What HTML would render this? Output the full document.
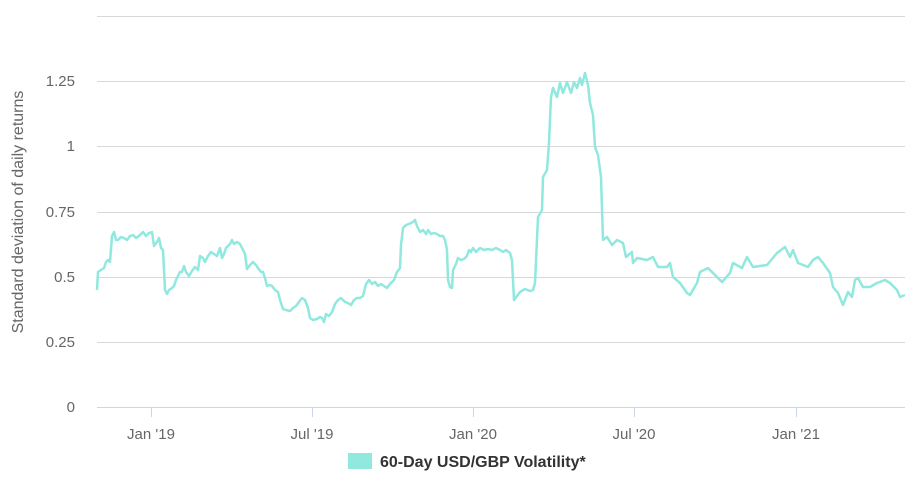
<!DOCTYPE html>
<html><head><meta charset="utf-8"><style>
body{margin:0;background:#fff;}
svg text{font-family:"Liberation Sans","DejaVu Sans",sans-serif;}
</style></head><body>
<svg width="921" height="480" xmlns="http://www.w3.org/2000/svg">
<g stroke="#d8d8d8" stroke-width="1">
<line x1="97" x2="905" y1="16.5" y2="16.5"/>
<line x1="97" x2="905" y1="81.5" y2="81.5"/>
<line x1="97" x2="905" y1="146.5" y2="146.5"/>
<line x1="97" x2="905" y1="212.5" y2="212.5"/>
<line x1="97" x2="905" y1="277.5" y2="277.5"/>
<line x1="97" x2="905" y1="342.5" y2="342.5"/>
</g>
<line x1="97" x2="905" y1="407.5" y2="407.5" stroke="#ccd6eb"/>
<g stroke="#ccd6eb">
<line x1="151.5" x2="151.5" y1="407" y2="417"/>
<line x1="312.5" x2="312.5" y1="407" y2="417"/>
<line x1="473.5" x2="473.5" y1="407" y2="417"/>
<line x1="634.5" x2="634.5" y1="407" y2="417"/>
<line x1="796.5" x2="796.5" y1="407" y2="417"/>
</g>
<g font-size="15" fill="#666" text-anchor="end">
<text x="75" y="86">1.25</text>
<text x="75" y="151">1</text>
<text x="75" y="217">0.75</text>
<text x="75" y="282">0.5</text>
<text x="75" y="347">0.25</text>
<text x="75" y="412">0</text>
</g>
<g font-size="15" fill="#666" text-anchor="middle">
<text x="151" y="439">Jan '19</text>
<text x="312" y="439">Jul '19</text>
<text x="473" y="439">Jan '20</text>
<text x="634" y="439">Jul '20</text>
<text x="796" y="439">Jan '21</text>
</g>
<text transform="translate(23,212) rotate(-90)" font-size="16" fill="#666" text-anchor="middle">Standard deviation of daily returns</text>
<polyline fill="none" stroke="#90e8de" stroke-width="2.5" stroke-linejoin="round" points="97,290 98,272 101,270 104,268 106,262 108,260 110,262 112,236 114,232 116,240 118,240 121,237 124,238 127,240 130,236 133,235 136,238 140,235 143,232 146,236 149,233 152,232 154,246 157,242 159,238 161,248 163,250 165,290 167,294 169,290 172,288 174,286 176,280 178,276 180,272 182,272 184,266 186,272 189,276 192,271 195,267 198,270 200,256 203,258 205,262 208,256 211,252 214,254 217,256 220,248 222,258 224,254 226,248 230,244 232,240 234,244 237,242 240,244 243,250 245,254 247,269 250,265 253,262 256,265 258,268 261,272 263,272 265,278 267,286 270,285 272,286 275,290 278,292 280,300 283,309 286,310 290,311 293,308 296,306 299,302 302,298 305,300 308,308 310,318 313,320 317,319 320,317 322,318 324,322 326,314 329,316 332,312 335,304 338,300 341,298 345,302 348,303 351,305 354,300 357,298 360,298 363,296 366,284 369,280 372,284 375,282 378,286 381,284 384,286 387,288 390,284 394,280 397,272 400,268 401,245 403,228 406,225 409,224 413,222 415,220 417,226 420,232 423,230 426,234 428,230 431,234 434,233 437,234 440,236 443,236 445,240 447,250 448,280 450,287 452,288 453,270 456,264 458,258 461,260 464,259 467,256 469,250 471,252 473,248 476,252 480,248 484,250 488,249 492,250 496,248 500,250 503,252 506,250 510,253 512,260 514,300 520,292 525,289 530,291 533,290 535,283 538,217 542,210 543,177 547,170 549,143 551,97 553,88 557,97 560,83 563,93 567,82 571,93 574,82 577,88 580,78 582,85 585,73 588,85 590,103 593,115 595,147 598,155 601,177 603,240 607,237 612,245 617,240 623,243 626,257 632,252 633,263 637,258 647,260 653,257 658,267 667,267 670,263 673,277 680,283 687,293 690,295 697,283 700,272 708,268 713,273 722,282 730,273 733,263 742,268 747,257 753,267 767,265 777,253 785,247 790,257 793,250 798,263 808,267 813,260 818,257 823,263 830,273 833,287 838,293 843,305 848,292 852,297 855,280 858,278 863,287 870,287 877,283 885,280 890,283 897,290 900,297 905,295"/>
<rect x="348" y="453" width="24" height="16" fill="#90e8de"/>
<text x="380" y="467" font-size="16" font-weight="bold" fill="#333">60-Day USD/GBP Volatility*</text>
</svg>
</body></html>
